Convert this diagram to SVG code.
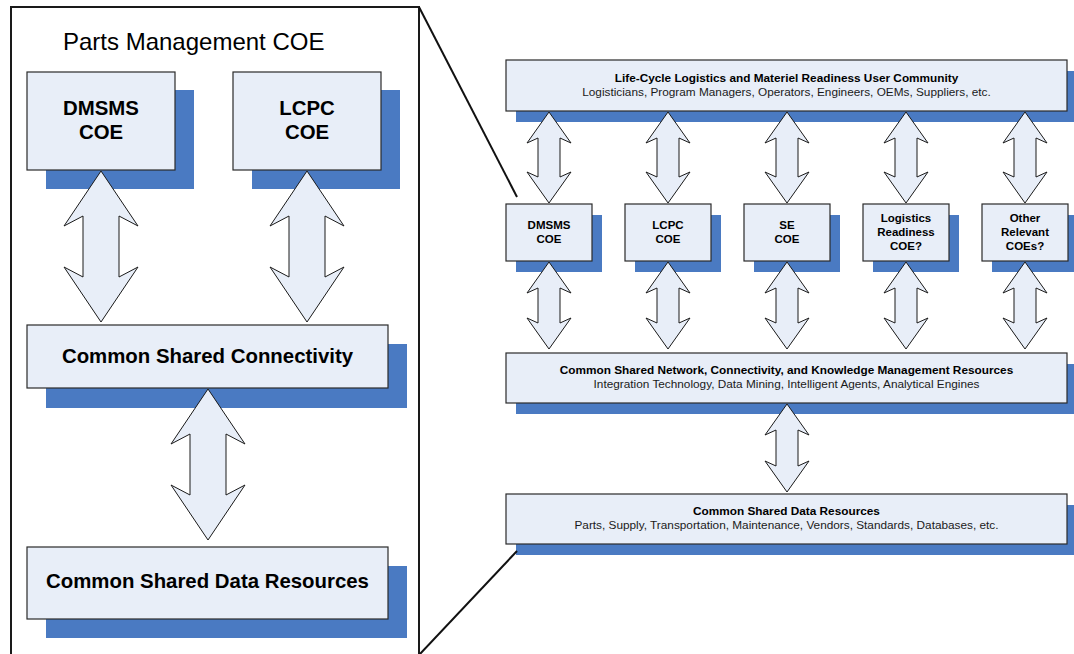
<svg xmlns="http://www.w3.org/2000/svg" xmlns:xlink="http://www.w3.org/1999/xlink" width="1074" height="654" viewBox="0 0 1074 654">
  <style>
    .box { fill: #E8EEF8; stroke: #2a2a2a; stroke-width: 1.2; }
    .shadow { fill: #4A7AC2; }
    .arrow { fill: #E8EEF8; stroke: #1a1a1a; stroke-width: 1; stroke-linejoin: miter; }
    .panel { fill: #ffffff; stroke: #1a1a1a; stroke-width: 2; }
    .zoom { stroke: #111; stroke-width: 2; fill: none; }
    text { font-family: "Liberation Sans", Arial, sans-serif; fill: #000; }
    .big { font-size: 20.4px; font-weight: bold; text-anchor: middle; }
    .title { font-size: 24px; }
    .hd { font-size: 11.8px; font-weight: bold; text-anchor: middle; }
    .sub { font-size: 11.8px; text-anchor: middle; fill: #1a1a1a; }
    .coe { font-size: 11.5px; font-weight: bold; text-anchor: middle; }
  </style>
  <defs>
    <!-- double-headed block arrows, centred on x = 0 -->
    <polygon id="arr-top" class="arrow" points="0,112 22,143 11,138 11,177 22,172 0,203 -22,172 -11,177 -11,138 -22,143"/>
    <polygon id="arr-mid" class="arrow" points="0,262 22,293 11,288 11,323 22,318 0,349 -22,318 -11,323 -11,288 -22,293"/>
  </defs>

  <rect width="1074" height="654" fill="#ffffff"/>

  <!-- enlarged Parts Management COE panel -->
  <g id="panel">
    <rect class="panel" x="11" y="7" width="408" height="680"/>
    <text class="title" x="63" y="50">Parts Management COE</text>
  </g>

  <g id="pm-dmsms">
    <rect class="shadow" x="46" y="90" width="148" height="99"/>
    <rect class="box" x="27" y="72" width="148" height="98"/>
    <text class="big" x="101" y="115">DMSMS</text>
    <text class="big" x="101" y="139">COE</text>
  </g>
  <g id="pm-lcpc">
    <rect class="shadow" x="252" y="90" width="148" height="99"/>
    <rect class="box" x="233" y="72" width="148" height="98"/>
    <text class="big" x="307" y="115">LCPC</text>
    <text class="big" x="307" y="139">COE</text>
  </g>
  <g id="pm-connectivity">
    <rect class="shadow" x="46" y="344" width="361" height="64"/>
    <rect class="box" x="27" y="325" width="361" height="63"/>
    <text class="big" x="207.5" y="363">Common Shared Connectivity</text>
  </g>
  <g id="pm-data">
    <rect class="shadow" x="46" y="566" width="361" height="72"/>
    <rect class="box" x="27" y="547" width="361" height="72"/>
    <text class="big" x="207.5" y="588">Common Shared Data Resources</text>
  </g>

  <!-- enterprise view -->
  <g id="user-community">
    <rect class="shadow" x="516" y="71" width="561" height="51"/>
    <rect class="box" x="506" y="60" width="561" height="51"/>
    <text class="hd" x="786.5" y="81.5">Life-Cycle Logistics and Materiel Readiness User Community</text>
    <text class="sub" x="786.5" y="95.5">Logisticians, Program Managers, Operators, Engineers, OEMs, Suppliers, etc.</text>
  </g>

  <g id="coe-dmsms">
    <rect class="shadow" x="516" y="215" width="86" height="57"/>
    <rect class="box" x="506" y="204" width="86" height="57"/>
    <text class="coe" x="549" y="228.5">DMSMS</text>
    <text class="coe" x="549" y="242.5">COE</text>
  </g>
  <g id="coe-lcpc">
    <rect class="shadow" x="635" y="215" width="86" height="57"/>
    <rect class="box" x="625" y="204" width="86" height="57"/>
    <text class="coe" x="668" y="228.5">LCPC</text>
    <text class="coe" x="668" y="242.5">COE</text>
  </g>
  <g id="coe-se">
    <rect class="shadow" x="754" y="215" width="86" height="57"/>
    <rect class="box" x="744" y="204" width="86" height="57"/>
    <text class="coe" x="787" y="228.5">SE</text>
    <text class="coe" x="787" y="242.5">COE</text>
  </g>
  <g id="coe-logistics">
    <rect class="shadow" x="873" y="215" width="86" height="57"/>
    <rect class="box" x="863" y="204" width="86" height="57"/>
    <text class="coe" x="906" y="221.5">Logistics</text>
    <text class="coe" x="906" y="235.5">Readiness</text>
    <text class="coe" x="906" y="249.5">COE?</text>
  </g>
  <g id="coe-other">
    <rect class="shadow" x="992" y="215" width="86" height="57"/>
    <rect class="box" x="982" y="204" width="86" height="57"/>
    <text class="coe" x="1025" y="221.5">Other</text>
    <text class="coe" x="1025" y="235.5">Relevant</text>
    <text class="coe" x="1025" y="249.5">COEs?</text>
  </g>

  <g id="network">
    <rect class="shadow" x="516" y="364" width="561" height="50"/>
    <rect class="box" x="506" y="353" width="561" height="50"/>
    <text class="hd" x="786.5" y="374">Common Shared Network, Connectivity, and Knowledge Management Resources</text>
    <text class="sub" x="786.5" y="388">Integration Technology, Data Mining, Intelligent Agents, Analytical Engines</text>
  </g>

  <g id="data-resources">
    <rect class="shadow" x="516" y="505" width="561" height="50"/>
    <rect class="box" x="506" y="494" width="561" height="50"/>
    <text class="hd" x="786.5" y="515">Common Shared Data Resources</text>
    <text class="sub" x="786.5" y="529">Parts, Supply, Transportation, Maintenance, Vendors, Standards, Databases, etc.</text>
  </g>

  <!-- connectors -->
  <g id="connectors">
    <polygon class="arrow" points="101,171 138,226 119,216 119,277 138,267 101,322 64,267 83,277 83,216 64,226"/>
    <polygon class="arrow" points="307,171 344,226 325,216 325,277 344,267 307,322 270,267 289,277 289,216 270,226"/>
    <polygon class="arrow" points="208,389 245,444 226,434 226,495 245,485 208,540 171,485 190,495 190,434 171,444"/>

    <use xlink:href="#arr-top" x="549"/>
    <use xlink:href="#arr-top" x="668"/>
    <use xlink:href="#arr-top" x="787"/>
    <use xlink:href="#arr-top" x="906"/>
    <use xlink:href="#arr-top" x="1025"/>

    <use xlink:href="#arr-mid" x="549"/>
    <use xlink:href="#arr-mid" x="668"/>
    <use xlink:href="#arr-mid" x="787"/>
    <use xlink:href="#arr-mid" x="906"/>
    <use xlink:href="#arr-mid" x="1025"/>

    <polygon class="arrow" points="787,404 809,435 798,430 798,466 809,461 787,492 765,461 776,466 776,430 765,435"/>
  </g>

  <!-- lines linking the panel to the DMSMS-to-data span -->
  <g id="zoom-lines">
    <line class="zoom" x1="419" y1="7" x2="517" y2="197"/>
    <line class="zoom" x1="420" y1="654" x2="517" y2="551"/>
  </g>
</svg>
